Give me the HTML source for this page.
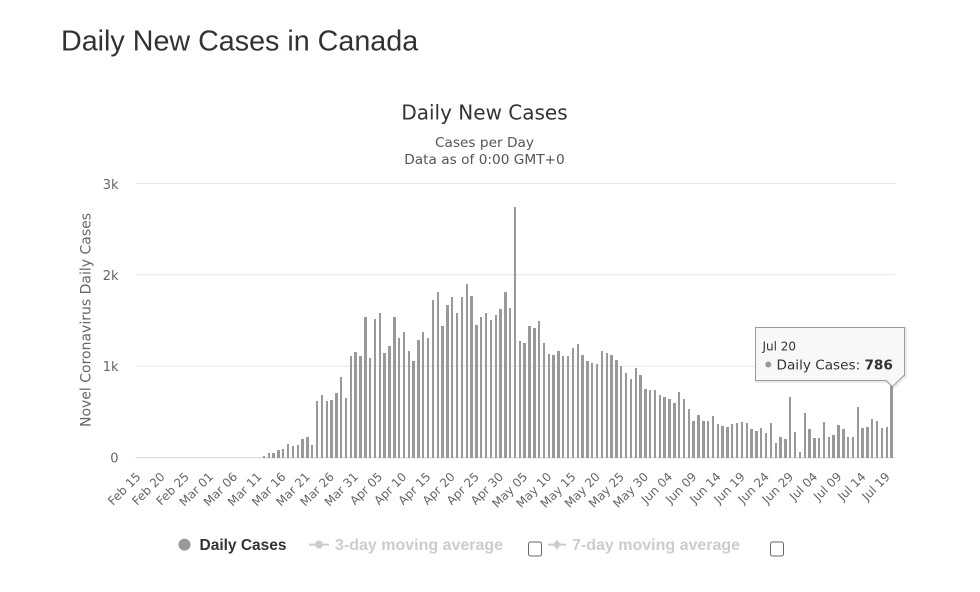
<!DOCTYPE html>
<html>
<head>
<meta charset="utf-8">
<style>
  html,body{margin:0;padding:0;background:#fff;}
  body{width:980px;height:592px;position:relative;overflow:hidden;}
  svg{position:absolute;left:0;top:0;}
  #bars{position:absolute;left:136px;top:180px;width:759px;height:277.5px;display:flex;align-items:flex-end;}
  #bars i{flex:1 1 0;display:flex;justify-content:center;--v:0;}
  #bars i::after{content:"";display:block;width:2.4px;height:calc(var(--v) * 0.0913px);background:#999;}
</style>
</head>
<body>
<svg width="980" height="592" xmlns="http://www.w3.org/2000/svg">
  <text x="61" y="50.7" font-family="Liberation Sans, Arial, sans-serif" font-size="28.7" fill="#303336">Daily New Cases in Canada</text>
  <text x="484.5" y="119.3" text-anchor="middle" font-family="DejaVu Sans, sans-serif" font-size="20" fill="#333">Daily New Cases</text>
  <text x="484.5" y="147" text-anchor="middle" font-family="DejaVu Sans, sans-serif" font-size="13.7" fill="#555">Cases per Day</text>
  <text x="484.5" y="164" text-anchor="middle" font-family="DejaVu Sans, sans-serif" font-size="13.7" fill="#555">Data as of 0:00 GMT+0</text>

  <g stroke="#e6e6e6" stroke-width="1">
    <line x1="136" y1="183.5" x2="895" y2="183.5"/>
    <line x1="136" y1="274.8" x2="895" y2="274.8"/>
    <line x1="136" y1="366.2" x2="895" y2="366.2"/>
  </g>
  <line x1="136" y1="457.8" x2="895" y2="457.8" stroke="#ccd6eb" stroke-width="1"/>

  <g font-family="DejaVu Sans, sans-serif" font-size="13" fill="#666" text-anchor="end">
    <text x="118.5" y="189">3k</text>
    <text x="118.5" y="280">2k</text>
    <text x="118.5" y="371.2">1k</text>
    <text x="118.5" y="462.5">0</text>
  </g>
  <text transform="translate(90.5,320) rotate(-90)" text-anchor="middle" font-family="DejaVu Sans, sans-serif" font-size="14" fill="#666">Novel Coronavirus Daily Cases</text>

  <g font-family="DejaVu Sans, sans-serif" font-size="12" fill="#666" text-anchor="end">
    <text transform="translate(141.42,477.5) rotate(-45)">Feb 15</text>
    <text transform="translate(165.59,477.5) rotate(-45)">Feb 20</text>
    <text transform="translate(189.76,477.5) rotate(-45)">Feb 25</text>
    <text transform="translate(213.93,477.5) rotate(-45)">Mar 01</text>
    <text transform="translate(238.10,477.5) rotate(-45)">Mar 06</text>
    <text transform="translate(262.27,477.5) rotate(-45)">Mar 11</text>
    <text transform="translate(286.44,477.5) rotate(-45)">Mar 16</text>
    <text transform="translate(310.61,477.5) rotate(-45)">Mar 21</text>
    <text transform="translate(334.78,477.5) rotate(-45)">Mar 26</text>
    <text transform="translate(358.95,477.5) rotate(-45)">Mar 31</text>
    <text transform="translate(383.12,477.5) rotate(-45)">Apr 05</text>
    <text transform="translate(407.29,477.5) rotate(-45)">Apr 10</text>
    <text transform="translate(431.46,477.5) rotate(-45)">Apr 15</text>
    <text transform="translate(455.63,477.5) rotate(-45)">Apr 20</text>
    <text transform="translate(479.80,477.5) rotate(-45)">Apr 25</text>
    <text transform="translate(503.97,477.5) rotate(-45)">Apr 30</text>
    <text transform="translate(528.14,477.5) rotate(-45)">May 05</text>
    <text transform="translate(552.31,477.5) rotate(-45)">May 10</text>
    <text transform="translate(576.48,477.5) rotate(-45)">May 15</text>
    <text transform="translate(600.65,477.5) rotate(-45)">May 20</text>
    <text transform="translate(624.82,477.5) rotate(-45)">May 25</text>
    <text transform="translate(648.99,477.5) rotate(-45)">May 30</text>
    <text transform="translate(673.16,477.5) rotate(-45)">Jun 04</text>
    <text transform="translate(697.33,477.5) rotate(-45)">Jun 09</text>
    <text transform="translate(721.50,477.5) rotate(-45)">Jun 14</text>
    <text transform="translate(745.67,477.5) rotate(-45)">Jun 19</text>
    <text transform="translate(769.84,477.5) rotate(-45)">Jun 24</text>
    <text transform="translate(794.01,477.5) rotate(-45)">Jun 29</text>
    <text transform="translate(818.18,477.5) rotate(-45)">Jul 04</text>
    <text transform="translate(842.35,477.5) rotate(-45)">Jul 09</text>
    <text transform="translate(866.52,477.5) rotate(-45)">Jul 14</text>
    <text transform="translate(890.69,477.5) rotate(-45)">Jul 19</text>
  </g>

  <!-- legend -->
  <circle cx="184.5" cy="544.6" r="6" fill="#999"/>
  <text x="199.5" y="550" font-family="Liberation Sans, Arial, sans-serif" font-weight="bold" font-size="15.5" fill="#333">Daily Cases</text>
  <line x1="309" y1="544.6" x2="329" y2="544.6" stroke="#ccc" stroke-width="2"/>
  <circle cx="319" cy="544.6" r="4" fill="#ccc"/>
  <text x="335" y="550" font-family="Liberation Sans, Arial, sans-serif" font-weight="bold" font-size="16" fill="#ccc">3-day moving average</text>
  <rect x="528.5" y="542" width="13" height="14" rx="2" fill="#fff" stroke="#666" stroke-width="1"/>
  <line x1="548" y1="544.6" x2="566" y2="544.6" stroke="#ccc" stroke-width="2"/>
  <path d="M557,539.6 L561,544.6 L557,549.6 L553,544.6 Z" fill="#ccc"/>
  <text x="572" y="550" font-family="Liberation Sans, Arial, sans-serif" font-weight="bold" font-size="16" fill="#ccc">7-day moving average</text>
  <rect x="770.5" y="542" width="13" height="14" rx="2" fill="#fff" stroke="#666" stroke-width="1"/>
</svg>

<div id="bars">
<i></i><i></i><i></i><i></i><i></i><i></i><i></i><i></i><i></i><i></i>
<i></i><i></i><i></i><i></i><i></i><i></i><i></i><i></i><i></i><i></i>
<i></i><i></i><i></i><i></i><i></i><i></i>
<i style="--v:15"></i><i style="--v:44"></i><i style="--v:44"></i><i style="--v:80"></i>
<i style="--v:98"></i><i style="--v:146"></i><i style="--v:124"></i><i style="--v:135"></i>
<i style="--v:205"></i><i style="--v:226"></i><i style="--v:135"></i><i style="--v:614"></i>
<i style="--v:690"></i><i style="--v:614"></i><i style="--v:625"></i><i style="--v:705"></i>
<i style="--v:884"></i><i style="--v:650"></i><i style="--v:1111"></i><i style="--v:1151"></i>
<i style="--v:1111"></i><i style="--v:1535"></i><i style="--v:1085"></i><i style="--v:1520"></i>
<i style="--v:1582"></i><i style="--v:1140"></i><i style="--v:1217"></i><i style="--v:1535"></i>
<i style="--v:1311"></i><i style="--v:1374"></i><i style="--v:1162"></i><i style="--v:1056"></i>
<i style="--v:1283"></i><i style="--v:1374"></i><i style="--v:1308"></i><i style="--v:1721"></i>
<i style="--v:1809"></i><i style="--v:1443"></i><i style="--v:1667"></i><i style="--v:1754"></i>
<i style="--v:1582"></i><i style="--v:1754"></i><i style="--v:1897"></i><i style="--v:1769"></i>
<i style="--v:1454"></i><i style="--v:1535"></i><i style="--v:1582"></i><i style="--v:1505"></i>
<i style="--v:1557"></i><i style="--v:1626"></i><i style="--v:1809"></i><i style="--v:1637"></i>
<i style="--v:2748"></i><i style="--v:1279"></i><i style="--v:1253"></i><i style="--v:1440"></i>
<i style="--v:1414"></i><i style="--v:1491"></i><i style="--v:1253"></i><i style="--v:1136"></i>
<i style="--v:1122"></i><i style="--v:1162"></i><i style="--v:1111"></i><i style="--v:1111"></i>
<i style="--v:1202"></i><i style="--v:1242"></i><i style="--v:1122"></i><i style="--v:1056"></i>
<i style="--v:1034"></i><i style="--v:1020"></i><i style="--v:1162"></i><i style="--v:1140"></i>
<i style="--v:1122"></i><i style="--v:1067"></i><i style="--v:1001"></i><i style="--v:928"></i>
<i style="--v:859"></i><i style="--v:979"></i><i style="--v:899"></i><i style="--v:752"></i>
<i style="--v:738"></i><i style="--v:738"></i><i style="--v:686"></i><i style="--v:658"></i>
<i style="--v:636"></i><i style="--v:592"></i><i style="--v:713"></i><i style="--v:636"></i>
<i style="--v:530"></i><i style="--v:398"></i><i style="--v:461"></i><i style="--v:398"></i>
<i style="--v:398"></i><i style="--v:450"></i><i style="--v:368"></i><i style="--v:343"></i>
<i style="--v:335"></i><i style="--v:365"></i><i style="--v:373"></i><i style="--v:394"></i>
<i style="--v:380"></i><i style="--v:307"></i><i style="--v:292"></i><i style="--v:325"></i>
<i style="--v:266"></i><i style="--v:373"></i><i style="--v:164"></i><i style="--v:230"></i>
<i style="--v:200"></i><i style="--v:661"></i><i style="--v:274"></i><i style="--v:55"></i>
<i style="--v:489"></i><i style="--v:310"></i><i style="--v:215"></i><i style="--v:215"></i>
<i style="--v:384"></i><i style="--v:226"></i><i style="--v:252"></i><i style="--v:357"></i>
<i style="--v:307"></i><i style="--v:226"></i><i style="--v:230"></i><i style="--v:555"></i>
<i style="--v:321"></i><i style="--v:335"></i><i style="--v:423"></i><i style="--v:398"></i>
<i style="--v:321"></i><i style="--v:332"></i><i style="--v:786"></i>
</div>

<svg width="980" height="592" xmlns="http://www.w3.org/2000/svg">
  <path d="M756.5,328.5 H905.5 V376 L893.5,387.5 L887,381.5 H756.5 Z" fill="none" stroke="rgba(0,0,0,0.08)" stroke-width="3"/>
  <path d="M755.5,327.5 H904.5 V375 L892.5,386.5 L886,380.5 H755.5 Z" fill="#f8f8f8" fill-opacity="0.95" stroke="#999" stroke-width="1"/>
  <text x="762.5" y="350.7" font-family="DejaVu Sans, sans-serif" font-size="12" fill="#333">Jul 20</text>
  <circle cx="768.3" cy="364.5" r="3" fill="#999"/>
  <text x="776.5" y="369.3" font-family="DejaVu Sans, sans-serif" font-size="13.6" fill="#333">Daily Cases: <tspan font-weight="bold">786</tspan></text>
</svg>
</body>
</html>
